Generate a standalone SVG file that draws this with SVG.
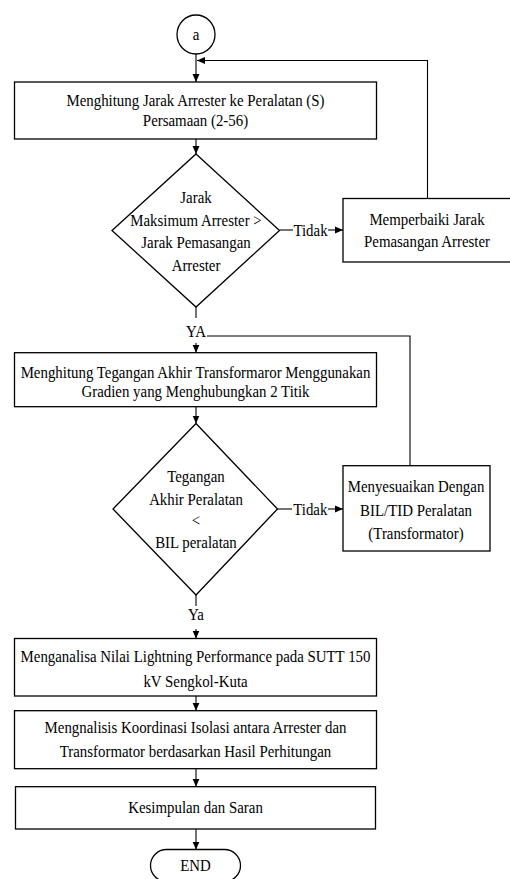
<svg xmlns="http://www.w3.org/2000/svg" width="510" height="879" viewBox="0 0 510 879">
<defs>
<style>
.shape{fill:#fff;stroke:#000;stroke-width:1.3}
.conn{fill:none;stroke:#000;stroke-width:1.1}
.t{font-family:"Liberation Serif",serif;font-size:17.5px;fill:#000;text-anchor:middle}
</style>
<marker id="ah" viewBox="0 0 8 8" refX="8" refY="4" markerWidth="8" markerHeight="8" markerUnits="userSpaceOnUse" orient="auto">
<path d="M0,0.5 L8,4 L0,7.5 Z" fill="#000"/>
</marker>
</defs>
<rect width="510" height="879" fill="#fff"/>

<g id="connectors">
<line class="conn" x1="196" y1="54" x2="196" y2="82" marker-end="url(#ah)"/>
<polyline class="conn" points="427.5,198.5 427.5,60.5 197,60.5" marker-end="url(#ah)"/>
<line class="conn" x1="196" y1="139" x2="196" y2="154" marker-end="url(#ah)"/>
<line class="conn" x1="279.5" y1="230" x2="293" y2="230"/>
<line class="conn" x1="328" y1="230" x2="343" y2="230" marker-end="url(#ah)"/>
<line class="conn" x1="196" y1="307" x2="196" y2="318"/>
<line class="conn" x1="196" y1="343" x2="196" y2="352.7" marker-end="url(#ah)"/>
<polyline class="conn" points="207,336 410,336 410,465.7"/>
<line class="conn" x1="196" y1="406.7" x2="196" y2="423.5" marker-end="url(#ah)"/>
<line class="conn" x1="277.5" y1="509" x2="292" y2="509"/>
<line class="conn" x1="328" y1="509" x2="343" y2="509" marker-end="url(#ah)"/>
<line class="conn" x1="196" y1="595" x2="196" y2="606"/>
<line class="conn" x1="196" y1="629" x2="196" y2="638.5" marker-end="url(#ah)"/>
<line class="conn" x1="196" y1="696" x2="196" y2="710.7" marker-end="url(#ah)"/>
<line class="conn" x1="196" y1="768.7" x2="196" y2="786.7" marker-end="url(#ah)"/>
<line class="conn" x1="196" y1="829" x2="196" y2="849.5" marker-end="url(#ah)"/>
<g transform="translate(310.5,0) scale(0.85,1)"><text class="t" x="0" y="236.5">Tidak</text></g>
<g transform="translate(196,0) scale(0.85,1)"><text class="t" x="0" y="337">YA</text></g>
<g transform="translate(310.3,0) scale(0.85,1)"><text class="t" x="0" y="515">Tidak</text></g>
<g transform="translate(196,0) scale(0.85,1)"><text class="t" x="0" y="620">Ya</text></g>
</g>

<g id="start">
<ellipse class="shape" cx="196" cy="34.5" rx="19" ry="19.5"/>
<g transform="translate(196,0) scale(0.85,1)"><text class="t" x="0" y="40">a</text></g>
</g>

<g id="box1">
<rect class="shape" x="14.5" y="82" width="362" height="57"/>
<g transform="translate(195.5,0) scale(0.85,1)">
<text class="t" x="0" y="106">Menghitung Jarak Arrester ke Peralatan (S)</text>
<text class="t" x="0" y="126">Persamaan (2-56)</text>
</g>
</g>

<g id="decision1">
<polygon class="shape" points="196,154 279.5,230.5 196,307 112,230.5"/>
<g transform="translate(196,0) scale(0.85,1)">
<text class="t" x="0" y="203">Jarak</text>
<text class="t" x="0" y="226">Maksimum Arrester &gt;</text>
<text class="t" x="0" y="248.5">Jarak Pemasangan</text>
<text class="t" x="0" y="271">Arrester</text>
</g>
</g>

<g id="fix1">
<rect class="shape" x="343" y="198.5" width="170" height="63.5"/>
<g transform="translate(427,0) scale(0.85,1)">
<text class="t" x="0" y="225">Memperbaiki Jarak</text>
<text class="t" x="0" y="247">Pemasangan Arrester</text>
</g>
</g>

<g id="box2">
<rect class="shape" x="14.5" y="352.7" width="362" height="54"/>
<g transform="translate(195.5,0) scale(0.85,1)">
<text class="t" x="0" y="378.3">Menghitung Tegangan Akhir Transformaror Menggunakan</text>
<text class="t" x="0" y="397">Gradien yang Menghubungkan 2 Titik</text>
</g>
</g>

<g id="decision2">
<polygon class="shape" points="196,423.5 277.5,509 196,595 113,509"/>
<g transform="translate(196,0) scale(0.85,1)">
<text class="t" x="0" y="482">Tegangan</text>
<text class="t" x="0" y="505">Akhir Peralatan</text>
<text class="t" x="0" y="526.5">&lt;</text>
<text class="t" x="0" y="548">BIL peralatan</text>
</g>
</g>

<g id="fix2">
<rect class="shape" x="343" y="465.7" width="147" height="85.3"/>
<g transform="translate(416,0) scale(0.85,1)">
<text class="t" x="0" y="492">Menyesuaikan Dengan</text>
<text class="t" x="0" y="516.5">BIL/TID Peralatan</text>
<text class="t" x="0" y="539.5">(Transformator)</text>
</g>
</g>

<g id="box4">
<rect class="shape" x="14.5" y="638.5" width="362" height="57.5"/>
<g transform="translate(195.5,0) scale(0.85,1)">
<text class="t" x="0" y="662">Menganalisa Nilai Lightning Performance pada SUTT 150</text>
<text class="t" x="0" y="687">kV Sengkol-Kuta</text>
</g>
</g>

<g id="box5">
<rect class="shape" x="14.5" y="710.7" width="362" height="58"/>
<g transform="translate(195.5,0) scale(0.85,1)">
<text class="t" x="0" y="733.5">Mengnalisis Koordinasi Isolasi antara Arrester dan</text>
<text class="t" x="0" y="757">Transformator berdasarkan Hasil Perhitungan</text>
</g>
</g>

<g id="box6">
<rect class="shape" x="15.5" y="786.7" width="360" height="42.3"/>
<g transform="translate(195.5,0) scale(0.85,1)">
<text class="t" x="0" y="813.5">Kesimpulan dan Saran</text>
</g>
</g>

<g id="end">
<rect class="shape" x="150.5" y="849.5" width="90" height="32" rx="16" ry="16"/>
<g transform="translate(195.5,0) scale(0.85,1)">
<text class="t" x="0" y="871.5">END</text>
</g>
</g>
</svg>
